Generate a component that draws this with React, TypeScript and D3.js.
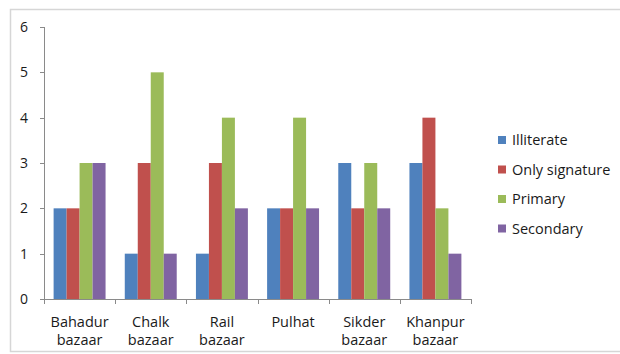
import React from "react";
import * as d3 from "d3";

const markets = [
  ["Bahadur", "bazaar"],
  ["Chalk", "bazaar"],
  ["Rail", "bazaar"],
  ["Pulhat", ""],
  ["Sikder", "bazaar"],
  ["Khanpur", "bazaar"],
];
const seriesNames = ["Illiterate", "Only signature", "Primary", "Secondary"];
const seriesColors = ["#4F81BD", "#C0504D", "#9BBB59", "#8064A2"];
const illiterate = [2, 1, 1, 2, 3, 3];
const onlySignature = [2, 3, 3, 2, 2, 4];
const primary = [3, 5, 4, 4, 3, 2];
const secondary = [3, 1, 2, 2, 2, 1];
const yTicks = [0, 1, 2, 3, 4, 5, 6];

const W = 620;
const H = 354;
const left = 44;
const right = 471;
const top = 27;
const bottom = 299;
const font = "'Open Sans', 'DejaVu Sans', sans-serif";
const axisColor = "#8a8a8a";
const textColor = "#1a1a1a";

export default function App() {
  const series = [illiterate, onlySignature, primary, secondary];
  const keys = markets.map((m) => m.join(" "));
  const x0 = d3.scaleBand<string>().domain(keys).range([left, right]).paddingInner(0.27).paddingOuter(0.135);
  const x1 = d3.scaleBand<number>().domain(d3.range(seriesNames.length)).range([0, x0.bandwidth()]);
  const y = d3.scaleLinear().domain([0, 6]).range([bottom, top]);
  const step = (right - left) / markets.length;
  const boundaries = d3.range(markets.length + 1).map((i) => left + i * step);

  return (
    <svg width={W} height={H} style={{ position: "absolute", left: 0, top: 0, background: "#fff" }}>
      <rect x={10.5} y={9.5} width={W + 5} height={H - 12} fill="#fff" stroke="#d6d6d6" strokeWidth={1.5} />
      {/* bars */}
      {keys.map((k, ci) => (
        <g key={k}>
          {series.map((vals, si) => (
            <rect
              key={si}
              x={(x0(k) as number) + (x1(si) as number)}
              y={y(vals[ci])}
              width={x1.bandwidth()}
              height={bottom - y(vals[ci])}
              fill={seriesColors[si]}
            />
          ))}
        </g>
      ))}
      {/* y axis */}
      <line x1={left + 0.5} x2={left + 0.5} y1={top} y2={bottom} stroke={axisColor} />
      {yTicks.map((t) => (
        <g key={t}>
          <line x1={left - 4} x2={left} y1={Math.round(y(t)) + 0.5} y2={Math.round(y(t)) + 0.5} stroke={axisColor} />
          <text x={24} y={y(t)} dy="0.36em" textAnchor="middle" fontFamily={font} fontSize={14} fill={textColor}>
            {t}
          </text>
        </g>
      ))}
      {/* x axis */}
      <line x1={left} x2={right} y1={bottom + 0.5} y2={bottom + 0.5} stroke={axisColor} />
      {boundaries.map((b, i) => (
        <line key={i} x1={Math.round(b) + 0.5} x2={Math.round(b) + 0.5} y1={bottom} y2={bottom + 5} stroke={axisColor} />
      ))}
      {markets.map((m, i) => {
        const cx = (x0(keys[i]) as number) + x0.bandwidth() / 2;
        return (
          <text key={i} textAnchor="middle" fontFamily={font} fontSize={14.5} fill={textColor}>
            <tspan x={cx} y={327}>{m[0]}</tspan>
            {m[1] && <tspan x={cx} y={345}>{m[1]}</tspan>}
          </text>
        );
      })}
      {/* legend */}
      {seriesNames.map((n, i) => (
        <g key={n} transform={`translate(498, ${140 + i * 29.5})`}>
          <rect x={0} y={-4} width={8} height={8} fill={seriesColors[i]} />
          <text x={14} y={0} dy="0.36em" fontFamily={font} fontSize={14.5} fill={textColor}>
            {n}
          </text>
        </g>
      ))}
    </svg>
  );
}
